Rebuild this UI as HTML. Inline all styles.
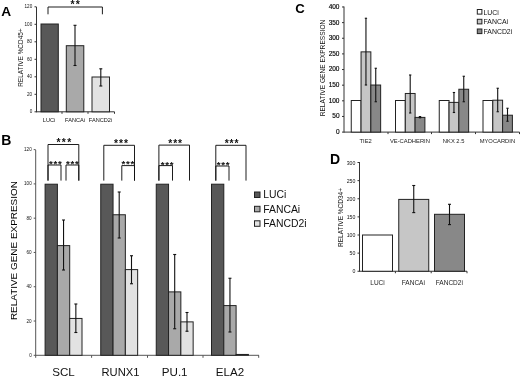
<!DOCTYPE html>
<html><head><meta charset="utf-8"><title>Figure</title>
<style>
html,body{margin:0;padding:0;background:#fff;}
body{width:520px;height:377px;overflow:hidden;font-family:"Liberation Sans",sans-serif;}
svg{display:block;filter:blur(0.3px);}
</style></head><body>
<svg width="520" height="377" viewBox="0 0 520 377">
<rect x="0" y="0" width="520" height="377" fill="#ffffff"/>
<text x="1.3" y="15.5" font-size="13.7" text-anchor="start" font-weight="bold" fill="#000" font-family="Liberation Sans, sans-serif" >A</text>
<line x1="36.5" y1="7" x2="36.5" y2="112.3" stroke="#333" stroke-width="1"/>
<line x1="36.5" y1="111.8" x2="114.5" y2="111.8" stroke="#333" stroke-width="1"/>
<line x1="34.5" y1="111.8" x2="36.5" y2="111.8" stroke="#333" stroke-width="1"/>
<text x="32.2" y="113.3" font-size="4.6" text-anchor="end" font-weight="normal" fill="#111" font-family="Liberation Sans, sans-serif" >0</text>
<line x1="34.5" y1="94.3" x2="36.5" y2="94.3" stroke="#333" stroke-width="1"/>
<text x="32.2" y="95.8" font-size="4.6" text-anchor="end" font-weight="normal" fill="#111" font-family="Liberation Sans, sans-serif" >20</text>
<line x1="34.5" y1="76.8" x2="36.5" y2="76.8" stroke="#333" stroke-width="1"/>
<text x="32.2" y="78.3" font-size="4.6" text-anchor="end" font-weight="normal" fill="#111" font-family="Liberation Sans, sans-serif" >40</text>
<line x1="34.5" y1="59.3" x2="36.5" y2="59.3" stroke="#333" stroke-width="1"/>
<text x="32.2" y="60.8" font-size="4.6" text-anchor="end" font-weight="normal" fill="#111" font-family="Liberation Sans, sans-serif" >60</text>
<line x1="34.5" y1="41.8" x2="36.5" y2="41.8" stroke="#333" stroke-width="1"/>
<text x="32.2" y="43.3" font-size="4.6" text-anchor="end" font-weight="normal" fill="#111" font-family="Liberation Sans, sans-serif" >80</text>
<line x1="34.5" y1="24.299999999999997" x2="36.5" y2="24.299999999999997" stroke="#333" stroke-width="1"/>
<text x="32.2" y="25.799999999999997" font-size="4.6" text-anchor="end" font-weight="normal" fill="#111" font-family="Liberation Sans, sans-serif" >100</text>
<line x1="34.5" y1="6.799999999999997" x2="36.5" y2="6.799999999999997" stroke="#333" stroke-width="1"/>
<text x="32.2" y="8.299999999999997" font-size="4.6" text-anchor="end" font-weight="normal" fill="#111" font-family="Liberation Sans, sans-serif" >120</text>
<line x1="62" y1="111.8" x2="62" y2="113.8" stroke="#333" stroke-width="1"/>
<line x1="88" y1="111.8" x2="88" y2="113.8" stroke="#333" stroke-width="1"/>
<line x1="114.5" y1="111.8" x2="114.5" y2="113.8" stroke="#333" stroke-width="1"/>
<text transform="translate(22.8,57.6) rotate(-90)" font-size="6.45" text-anchor="middle" fill="#111" font-family="Liberation Sans, sans-serif">RELATIVE %CD45+</text>
<rect x="41" y="24" width="17.3" height="87.8" fill="#585858" stroke="#222" stroke-width="1"/>
<rect x="66.3" y="45.7" width="17.5" height="66.1" fill="#a9a9a9" stroke="#222" stroke-width="1"/>
<rect x="92" y="77" width="17.5" height="34.8" fill="#e2e2e2" stroke="#222" stroke-width="1"/>
<line x1="75" y1="25.3" x2="75" y2="65.5" stroke="#111" stroke-width="1.1"/>
<line x1="73.5" y1="25.3" x2="76.5" y2="25.3" stroke="#111" stroke-width="1.1"/>
<line x1="73.5" y1="65.5" x2="76.5" y2="65.5" stroke="#111" stroke-width="1.1"/>
<line x1="100.8" y1="68.8" x2="100.8" y2="86" stroke="#111" stroke-width="1.1"/>
<line x1="99.3" y1="68.8" x2="102.3" y2="68.8" stroke="#111" stroke-width="1.1"/>
<line x1="99.3" y1="86" x2="102.3" y2="86" stroke="#111" stroke-width="1.1"/>
<polyline points="48,14.3 48,7 102.4,7 102.4,14.3" fill="none" stroke="#111" stroke-width="0.95"/>
<text x="75.7" y="8.4" font-size="10.5" text-anchor="middle" font-weight="bold" fill="#111" font-family="Liberation Sans, sans-serif" letter-spacing="1.0">**</text>
<text x="49" y="122" font-size="5.6" text-anchor="middle" font-weight="normal" fill="#111" font-family="Liberation Sans, sans-serif" >LUCi</text>
<text x="75" y="122" font-size="5.6" text-anchor="middle" font-weight="normal" fill="#111" font-family="Liberation Sans, sans-serif" >FANCAi</text>
<text x="100.5" y="122" font-size="5.6" text-anchor="middle" font-weight="normal" fill="#111" font-family="Liberation Sans, sans-serif" >FANCD2i</text>
<text x="1.3" y="145" font-size="14" text-anchor="start" font-weight="bold" fill="#000" font-family="Liberation Sans, sans-serif" >B</text>
<line x1="35.7" y1="150" x2="35.7" y2="355.8" stroke="#555" stroke-width="1"/>
<line x1="35.7" y1="355.3" x2="259" y2="355.3" stroke="#555" stroke-width="1"/>
<line x1="33.7" y1="355.3" x2="35.7" y2="355.3" stroke="#555" stroke-width="1"/>
<text x="31.700000000000003" y="356.8" font-size="4.6" text-anchor="end" font-weight="normal" fill="#111" font-family="Liberation Sans, sans-serif" >0</text>
<line x1="33.7" y1="321.02" x2="35.7" y2="321.02" stroke="#555" stroke-width="1"/>
<text x="31.700000000000003" y="322.52" font-size="4.6" text-anchor="end" font-weight="normal" fill="#111" font-family="Liberation Sans, sans-serif" >20</text>
<line x1="33.7" y1="286.74" x2="35.7" y2="286.74" stroke="#555" stroke-width="1"/>
<text x="31.700000000000003" y="288.24" font-size="4.6" text-anchor="end" font-weight="normal" fill="#111" font-family="Liberation Sans, sans-serif" >40</text>
<line x1="33.7" y1="252.46" x2="35.7" y2="252.46" stroke="#555" stroke-width="1"/>
<text x="31.700000000000003" y="253.96" font-size="4.6" text-anchor="end" font-weight="normal" fill="#111" font-family="Liberation Sans, sans-serif" >60</text>
<line x1="33.7" y1="218.18" x2="35.7" y2="218.18" stroke="#555" stroke-width="1"/>
<text x="31.700000000000003" y="219.68" font-size="4.6" text-anchor="end" font-weight="normal" fill="#111" font-family="Liberation Sans, sans-serif" >80</text>
<line x1="33.7" y1="183.9" x2="35.7" y2="183.9" stroke="#555" stroke-width="1"/>
<text x="31.700000000000003" y="185.4" font-size="4.6" text-anchor="end" font-weight="normal" fill="#111" font-family="Liberation Sans, sans-serif" >100</text>
<line x1="33.7" y1="149.62" x2="35.7" y2="149.62" stroke="#555" stroke-width="1"/>
<text x="31.700000000000003" y="151.12" font-size="4.6" text-anchor="end" font-weight="normal" fill="#111" font-family="Liberation Sans, sans-serif" >120</text>
<line x1="35.7" y1="355.3" x2="35.7" y2="357.8" stroke="#555" stroke-width="1"/>
<line x1="91.6" y1="355.3" x2="91.6" y2="357.8" stroke="#555" stroke-width="1"/>
<line x1="147.5" y1="355.3" x2="147.5" y2="357.8" stroke="#555" stroke-width="1"/>
<line x1="203" y1="355.3" x2="203" y2="357.8" stroke="#555" stroke-width="1"/>
<line x1="258.7" y1="355.3" x2="258.7" y2="357.8" stroke="#555" stroke-width="1"/>
<text transform="translate(17.2,250.6) rotate(-90)" font-size="9.95" text-anchor="middle" fill="#000" font-family="Liberation Sans, sans-serif">RELATIVE GENE EXPRESION</text>
<rect x="45.1" y="184.2" width="12.3" height="171.10000000000002" fill="#585858" stroke="#222" stroke-width="1"/>
<rect x="57.400000000000006" y="245.604" width="12.3" height="109.696" fill="#a9a9a9" stroke="#222" stroke-width="1"/>
<rect x="69.7" y="318.449" width="12.3" height="36.851" fill="#e2e2e2" stroke="#222" stroke-width="1"/>
<line x1="63.550000000000004" y1="220" x2="63.550000000000004" y2="270" stroke="#111" stroke-width="1.1"/>
<line x1="62.050000000000004" y1="220" x2="65.05000000000001" y2="220" stroke="#111" stroke-width="1.1"/>
<line x1="62.050000000000004" y1="270" x2="65.05000000000001" y2="270" stroke="#111" stroke-width="1.1"/>
<line x1="75.85" y1="304" x2="75.85" y2="332.5" stroke="#111" stroke-width="1.1"/>
<line x1="74.35" y1="304" x2="77.35" y2="304" stroke="#111" stroke-width="1.1"/>
<line x1="74.35" y1="332.5" x2="77.35" y2="332.5" stroke="#111" stroke-width="1.1"/>
<text x="63.550000000000004" y="376.2" font-size="11.6" text-anchor="middle" font-weight="normal" fill="#111" font-family="Liberation Sans, sans-serif" >SCL</text>
<rect x="100.75" y="184.2" width="12.3" height="171.10000000000002" fill="#585858" stroke="#222" stroke-width="1"/>
<rect x="113.05" y="214.752" width="12.3" height="140.548" fill="#a9a9a9" stroke="#222" stroke-width="1"/>
<rect x="125.35" y="269.6" width="12.3" height="85.69999999999999" fill="#e2e2e2" stroke="#222" stroke-width="1"/>
<line x1="119.2" y1="192" x2="119.2" y2="238" stroke="#111" stroke-width="1.1"/>
<line x1="117.7" y1="192" x2="120.7" y2="192" stroke="#111" stroke-width="1.1"/>
<line x1="117.7" y1="238" x2="120.7" y2="238" stroke="#111" stroke-width="1.1"/>
<line x1="131.5" y1="255.75" x2="131.5" y2="283.75" stroke="#111" stroke-width="1.1"/>
<line x1="130.0" y1="255.75" x2="133.0" y2="255.75" stroke="#111" stroke-width="1.1"/>
<line x1="130.0" y1="283.75" x2="133.0" y2="283.75" stroke="#111" stroke-width="1.1"/>
<text x="120.5" y="376.2" font-size="11.2" text-anchor="middle" font-weight="normal" fill="#111" font-family="Liberation Sans, sans-serif" >RUNX1</text>
<rect x="156.25" y="184.2" width="12.3" height="171.10000000000002" fill="#585858" stroke="#222" stroke-width="1"/>
<rect x="168.55" y="291.882" width="12.3" height="63.418000000000006" fill="#a9a9a9" stroke="#222" stroke-width="1"/>
<rect x="180.85" y="321.877" width="12.3" height="33.423" fill="#e2e2e2" stroke="#222" stroke-width="1"/>
<line x1="174.7" y1="254.5" x2="174.7" y2="328.75" stroke="#111" stroke-width="1.1"/>
<line x1="173.2" y1="254.5" x2="176.2" y2="254.5" stroke="#111" stroke-width="1.1"/>
<line x1="173.2" y1="328.75" x2="176.2" y2="328.75" stroke="#111" stroke-width="1.1"/>
<line x1="187.0" y1="312.5" x2="187.0" y2="331.25" stroke="#111" stroke-width="1.1"/>
<line x1="185.5" y1="312.5" x2="188.5" y2="312.5" stroke="#111" stroke-width="1.1"/>
<line x1="185.5" y1="331.25" x2="188.5" y2="331.25" stroke="#111" stroke-width="1.1"/>
<text x="174.7" y="376.2" font-size="11.6" text-anchor="middle" font-weight="normal" fill="#111" font-family="Liberation Sans, sans-serif" >PU.1</text>
<rect x="211.5" y="184.2" width="12.3" height="171.10000000000002" fill="#585858" stroke="#222" stroke-width="1"/>
<rect x="223.8" y="305.594" width="12.3" height="49.70600000000002" fill="#a9a9a9" stroke="#222" stroke-width="1"/>
<rect x="236.1" y="354.443" width="12.3" height="0.8570000000000277" fill="#e2e2e2" stroke="#222" stroke-width="1"/>
<line x1="229.95" y1="278.25" x2="229.95" y2="332" stroke="#111" stroke-width="1.1"/>
<line x1="228.45" y1="278.25" x2="231.45" y2="278.25" stroke="#111" stroke-width="1.1"/>
<line x1="228.45" y1="332" x2="231.45" y2="332" stroke="#111" stroke-width="1.1"/>
<text x="229.95" y="376.2" font-size="11.6" text-anchor="middle" font-weight="normal" fill="#111" font-family="Liberation Sans, sans-serif" >ELA2</text>
<polyline points="48,180.6 48,144.5 78.8,144.5 78.8,180.6" fill="none" stroke="#111" stroke-width="0.95"/>
<text x="64.5" y="146.4" font-size="10.3" text-anchor="middle" font-weight="bold" fill="#111" font-family="Liberation Sans, sans-serif" letter-spacing="1.4">***</text>
<polyline points="48,180.6 48,165 61,165 61,180.6" fill="none" stroke="#111" stroke-width="0.95"/>
<text x="55.7" y="167.2" font-size="9.7" text-anchor="middle" font-weight="bold" fill="#111" font-family="Liberation Sans, sans-serif" letter-spacing="0.7">***</text>
<polyline points="66,180.6 66,165 78.8,165 78.8,180.6" fill="none" stroke="#111" stroke-width="0.95"/>
<text x="72.7" y="167.2" font-size="9.7" text-anchor="middle" font-weight="bold" fill="#111" font-family="Liberation Sans, sans-serif" letter-spacing="0.7">***</text>
<polyline points="103.8,180.6 103.8,145.3 134.5,145.3 134.5,180.6" fill="none" stroke="#111" stroke-width="0.95"/>
<text x="121.4" y="147.2" font-size="10.3" text-anchor="middle" font-weight="bold" fill="#111" font-family="Liberation Sans, sans-serif" letter-spacing="1.0">***</text>
<polyline points="121.8,180.6 121.8,165.6 134.5,165.6 134.5,180.6" fill="none" stroke="#111" stroke-width="0.95"/>
<text x="128.2" y="166.6" font-size="9.7" text-anchor="middle" font-weight="bold" fill="#111" font-family="Liberation Sans, sans-serif" letter-spacing="0.7">***</text>
<polyline points="158.9,180.6 158.9,145.1 189.5,145.1 189.5,180.6" fill="none" stroke="#111" stroke-width="0.95"/>
<text x="175.6" y="146.8" font-size="10.3" text-anchor="middle" font-weight="bold" fill="#111" font-family="Liberation Sans, sans-serif" letter-spacing="0.9">***</text>
<polyline points="158.9,180.6 158.9,165.6 172.5,165.6 172.5,180.6" fill="none" stroke="#111" stroke-width="0.95"/>
<text x="167.5" y="167.7" font-size="9.7" text-anchor="middle" font-weight="bold" fill="#111" font-family="Liberation Sans, sans-serif" letter-spacing="0.7">***</text>
<polyline points="215.8,180.6 215.8,145.3 246,145.3 246,180.6" fill="none" stroke="#111" stroke-width="0.95"/>
<text x="232" y="147.2" font-size="10.3" text-anchor="middle" font-weight="bold" fill="#111" font-family="Liberation Sans, sans-serif" letter-spacing="0.9">***</text>
<polyline points="215.8,180.6 215.8,166 229,166 229,180.6" fill="none" stroke="#111" stroke-width="0.95"/>
<text x="223.4" y="167.8" font-size="9.7" text-anchor="middle" font-weight="bold" fill="#111" font-family="Liberation Sans, sans-serif" letter-spacing="0.7">***</text>
<rect x="254.5" y="192" width="5.5" height="5.5" fill="#585858" stroke="#222" stroke-width="1"/>
<text x="263.2" y="198.3" font-size="10.4" text-anchor="start" font-weight="normal" fill="#111" font-family="Liberation Sans, sans-serif" >LUCi</text>
<rect x="254.5" y="206.3" width="5.5" height="5.5" fill="#a9a9a9" stroke="#222" stroke-width="1"/>
<text x="263.2" y="212.60000000000002" font-size="10.4" text-anchor="start" font-weight="normal" fill="#111" font-family="Liberation Sans, sans-serif" >FANCAi</text>
<rect x="254.5" y="220.8" width="5.5" height="5.5" fill="#e2e2e2" stroke="#222" stroke-width="1"/>
<text x="263.2" y="227.10000000000002" font-size="10.4" text-anchor="start" font-weight="normal" fill="#111" font-family="Liberation Sans, sans-serif" >FANCD2i</text>
<text x="295.3" y="12.8" font-size="13.2" text-anchor="start" font-weight="bold" fill="#000" font-family="Liberation Sans, sans-serif" >C</text>
<line x1="344" y1="6.5" x2="344" y2="132.6" stroke="#333" stroke-width="1"/>
<line x1="344" y1="132.1" x2="519.5" y2="132.1" stroke="#333" stroke-width="1"/>
<line x1="342" y1="132.1" x2="344" y2="132.1" stroke="#333" stroke-width="1"/>
<text x="339.5" y="134.0" font-size="6.5" text-anchor="end" font-weight="normal" fill="#000" font-family="Liberation Sans, sans-serif" stroke="#000" stroke-width="0.15">0</text>
<line x1="342" y1="116.46" x2="344" y2="116.46" stroke="#333" stroke-width="1"/>
<text x="339.5" y="118.36" font-size="6.5" text-anchor="end" font-weight="normal" fill="#000" font-family="Liberation Sans, sans-serif" stroke="#000" stroke-width="0.15">50</text>
<line x1="342" y1="100.82" x2="344" y2="100.82" stroke="#333" stroke-width="1"/>
<text x="339.5" y="102.72" font-size="6.5" text-anchor="end" font-weight="normal" fill="#000" font-family="Liberation Sans, sans-serif" stroke="#000" stroke-width="0.15">100</text>
<line x1="342" y1="85.17999999999999" x2="344" y2="85.17999999999999" stroke="#333" stroke-width="1"/>
<text x="339.5" y="87.08" font-size="6.5" text-anchor="end" font-weight="normal" fill="#000" font-family="Liberation Sans, sans-serif" stroke="#000" stroke-width="0.15">150</text>
<line x1="342" y1="69.53999999999999" x2="344" y2="69.53999999999999" stroke="#333" stroke-width="1"/>
<text x="339.5" y="71.44" font-size="6.5" text-anchor="end" font-weight="normal" fill="#000" font-family="Liberation Sans, sans-serif" stroke="#000" stroke-width="0.15">200</text>
<line x1="342" y1="53.89999999999999" x2="344" y2="53.89999999999999" stroke="#333" stroke-width="1"/>
<text x="339.5" y="55.79999999999999" font-size="6.5" text-anchor="end" font-weight="normal" fill="#000" font-family="Liberation Sans, sans-serif" stroke="#000" stroke-width="0.15">250</text>
<line x1="342" y1="38.25999999999999" x2="344" y2="38.25999999999999" stroke="#333" stroke-width="1"/>
<text x="339.5" y="40.15999999999999" font-size="6.5" text-anchor="end" font-weight="normal" fill="#000" font-family="Liberation Sans, sans-serif" stroke="#000" stroke-width="0.15">300</text>
<line x1="342" y1="22.61999999999999" x2="344" y2="22.61999999999999" stroke="#333" stroke-width="1"/>
<text x="339.5" y="24.51999999999999" font-size="6.5" text-anchor="end" font-weight="normal" fill="#000" font-family="Liberation Sans, sans-serif" stroke="#000" stroke-width="0.15">350</text>
<line x1="342" y1="6.97999999999999" x2="344" y2="6.97999999999999" stroke="#333" stroke-width="1"/>
<text x="339.5" y="8.87999999999999" font-size="6.5" text-anchor="end" font-weight="normal" fill="#000" font-family="Liberation Sans, sans-serif" stroke="#000" stroke-width="0.15">400</text>
<line x1="388" y1="132.1" x2="388" y2="134.1" stroke="#333" stroke-width="1"/>
<line x1="431.5" y1="132.1" x2="431.5" y2="134.1" stroke="#333" stroke-width="1"/>
<line x1="475.5" y1="132.1" x2="475.5" y2="134.1" stroke="#333" stroke-width="1"/>
<line x1="519.5" y1="132.1" x2="519.5" y2="134.1" stroke="#333" stroke-width="1"/>
<text transform="translate(324.7,68) rotate(-90)" font-size="6.6" text-anchor="middle" fill="#111" font-family="Liberation Sans, sans-serif">RELATIVE GENE EXPRESSION</text>
<rect x="351.25" y="100.5" width="9.8" height="31.599999999999994" fill="#ffffff" stroke="#222" stroke-width="1"/>
<rect x="361.05" y="51.866799999999984" width="9.8" height="80.23320000000001" fill="#c6c6c6" stroke="#222" stroke-width="1"/>
<rect x="370.85" y="85.02359999999999" width="9.8" height="47.07640000000001" fill="#888888" stroke="#222" stroke-width="1"/>
<line x1="365.95" y1="18.25" x2="365.95" y2="85" stroke="#111" stroke-width="1.1"/>
<line x1="364.8" y1="18.25" x2="367.09999999999997" y2="18.25" stroke="#111" stroke-width="1.1"/>
<line x1="364.8" y1="85" x2="367.09999999999997" y2="85" stroke="#111" stroke-width="1.1"/>
<line x1="375.75" y1="68.25" x2="375.75" y2="101.75" stroke="#111" stroke-width="1.1"/>
<line x1="374.6" y1="68.25" x2="376.9" y2="68.25" stroke="#111" stroke-width="1.1"/>
<line x1="374.6" y1="101.75" x2="376.9" y2="101.75" stroke="#111" stroke-width="1.1"/>
<text x="365.65" y="143.2" font-size="5.8" text-anchor="middle" font-weight="normal" fill="#222" font-family="Liberation Sans, sans-serif" >TIE2</text>
<rect x="395.5" y="100.5" width="9.8" height="31.599999999999994" fill="#ffffff" stroke="#222" stroke-width="1"/>
<rect x="405.3" y="93.4692" width="9.8" height="38.630799999999994" fill="#c6c6c6" stroke="#222" stroke-width="1"/>
<rect x="415.1" y="117.3984" width="9.8" height="14.7016" fill="#888888" stroke="#222" stroke-width="1"/>
<line x1="410.2" y1="75" x2="410.2" y2="113" stroke="#111" stroke-width="1.1"/>
<line x1="409.05" y1="75" x2="411.34999999999997" y2="75" stroke="#111" stroke-width="1.1"/>
<line x1="409.05" y1="113" x2="411.34999999999997" y2="113" stroke="#111" stroke-width="1.1"/>
<line x1="420.0" y1="116.6" x2="420.0" y2="117.8" stroke="#111" stroke-width="1.1"/>
<line x1="418.85" y1="116.6" x2="421.15" y2="116.6" stroke="#111" stroke-width="1.1"/>
<line x1="418.85" y1="117.8" x2="421.15" y2="117.8" stroke="#111" stroke-width="1.1"/>
<ellipse cx="420.0" cy="117.2" rx="1.3" ry="0.9" fill="#111"/>
<text x="409.9" y="143.2" font-size="5.8" text-anchor="middle" font-weight="normal" fill="#222" font-family="Liberation Sans, sans-serif" >VE-CADHERIN</text>
<rect x="439.25" y="100.5" width="9.8" height="31.599999999999994" fill="#ffffff" stroke="#222" stroke-width="1"/>
<rect x="449.05" y="102.38399999999999" width="9.8" height="29.716000000000008" fill="#c6c6c6" stroke="#222" stroke-width="1"/>
<rect x="458.85" y="89.2464" width="9.8" height="42.8536" fill="#888888" stroke="#222" stroke-width="1"/>
<line x1="453.95" y1="92.5" x2="453.95" y2="112.5" stroke="#111" stroke-width="1.1"/>
<line x1="452.8" y1="92.5" x2="455.09999999999997" y2="92.5" stroke="#111" stroke-width="1.1"/>
<line x1="452.8" y1="112.5" x2="455.09999999999997" y2="112.5" stroke="#111" stroke-width="1.1"/>
<line x1="463.75" y1="76.25" x2="463.75" y2="101.75" stroke="#111" stroke-width="1.1"/>
<line x1="462.6" y1="76.25" x2="464.9" y2="76.25" stroke="#111" stroke-width="1.1"/>
<line x1="462.6" y1="101.75" x2="464.9" y2="101.75" stroke="#111" stroke-width="1.1"/>
<text x="453.65" y="143.2" font-size="5.8" text-anchor="middle" font-weight="normal" fill="#222" font-family="Liberation Sans, sans-serif" >NKX 2.5</text>
<rect x="483" y="100.5" width="9.8" height="31.599999999999994" fill="#ffffff" stroke="#222" stroke-width="1"/>
<rect x="492.8" y="100.19439999999999" width="9.8" height="31.905600000000007" fill="#c6c6c6" stroke="#222" stroke-width="1"/>
<rect x="502.6" y="115.2088" width="9.8" height="16.891199999999998" fill="#888888" stroke="#222" stroke-width="1"/>
<line x1="497.7" y1="88.25" x2="497.7" y2="111.75" stroke="#111" stroke-width="1.1"/>
<line x1="496.55" y1="88.25" x2="498.84999999999997" y2="88.25" stroke="#111" stroke-width="1.1"/>
<line x1="496.55" y1="111.75" x2="498.84999999999997" y2="111.75" stroke="#111" stroke-width="1.1"/>
<line x1="507.5" y1="108.25" x2="507.5" y2="121.25" stroke="#111" stroke-width="1.1"/>
<line x1="506.35" y1="108.25" x2="508.65" y2="108.25" stroke="#111" stroke-width="1.1"/>
<line x1="506.35" y1="121.25" x2="508.65" y2="121.25" stroke="#111" stroke-width="1.1"/>
<text x="497.4" y="143.2" font-size="5.8" text-anchor="middle" font-weight="normal" fill="#222" font-family="Liberation Sans, sans-serif" >MYOCARDIN</text>
<rect x="477.3" y="9.5" width="4.6" height="4.6" fill="#ffffff" stroke="#222" stroke-width="1"/>
<text x="483.5" y="14.5" font-size="6.9" text-anchor="start" font-weight="normal" fill="#111" font-family="Liberation Sans, sans-serif" >LUCi</text>
<rect x="477.3" y="19.3" width="4.6" height="4.6" fill="#c6c6c6" stroke="#222" stroke-width="1"/>
<text x="483.5" y="24.3" font-size="6.9" text-anchor="start" font-weight="normal" fill="#111" font-family="Liberation Sans, sans-serif" >FANCAi</text>
<rect x="477.3" y="29" width="4.6" height="4.6" fill="#888888" stroke="#222" stroke-width="1"/>
<text x="483.5" y="34" font-size="6.9" text-anchor="start" font-weight="normal" fill="#111" font-family="Liberation Sans, sans-serif" >FANCD2i</text>
<text x="330" y="164" font-size="14" text-anchor="start" font-weight="bold" fill="#000" font-family="Liberation Sans, sans-serif" >D</text>
<line x1="359.5" y1="162" x2="359.5" y2="271.75" stroke="#333" stroke-width="1"/>
<line x1="359.5" y1="271.25" x2="467" y2="271.25" stroke="#333" stroke-width="1"/>
<line x1="357.5" y1="271.25" x2="359.5" y2="271.25" stroke="#333" stroke-width="1"/>
<text x="355.3" y="273.35" font-size="5.2" text-anchor="end" font-weight="normal" fill="#111" font-family="Liberation Sans, sans-serif" >0</text>
<line x1="357.5" y1="253.125" x2="359.5" y2="253.125" stroke="#333" stroke-width="1"/>
<text x="355.3" y="255.225" font-size="5.2" text-anchor="end" font-weight="normal" fill="#111" font-family="Liberation Sans, sans-serif" >50</text>
<line x1="357.5" y1="235.0" x2="359.5" y2="235.0" stroke="#333" stroke-width="1"/>
<text x="355.3" y="237.1" font-size="5.2" text-anchor="end" font-weight="normal" fill="#111" font-family="Liberation Sans, sans-serif" >100</text>
<line x1="357.5" y1="216.875" x2="359.5" y2="216.875" stroke="#333" stroke-width="1"/>
<text x="355.3" y="218.975" font-size="5.2" text-anchor="end" font-weight="normal" fill="#111" font-family="Liberation Sans, sans-serif" >150</text>
<line x1="357.5" y1="198.75" x2="359.5" y2="198.75" stroke="#333" stroke-width="1"/>
<text x="355.3" y="200.85" font-size="5.2" text-anchor="end" font-weight="normal" fill="#111" font-family="Liberation Sans, sans-serif" >200</text>
<line x1="357.5" y1="180.625" x2="359.5" y2="180.625" stroke="#333" stroke-width="1"/>
<text x="355.3" y="182.725" font-size="5.2" text-anchor="end" font-weight="normal" fill="#111" font-family="Liberation Sans, sans-serif" >250</text>
<line x1="357.5" y1="162.5" x2="359.5" y2="162.5" stroke="#333" stroke-width="1"/>
<text x="355.3" y="164.6" font-size="5.2" text-anchor="end" font-weight="normal" fill="#111" font-family="Liberation Sans, sans-serif" >300</text>
<line x1="395.4" y1="271.25" x2="395.4" y2="273.25" stroke="#333" stroke-width="1"/>
<line x1="431.2" y1="271.25" x2="431.2" y2="273.25" stroke="#333" stroke-width="1"/>
<line x1="467" y1="271.25" x2="467" y2="273.25" stroke="#333" stroke-width="1"/>
<text transform="translate(343.3,217.5) rotate(-90)" font-size="6.5" text-anchor="middle" fill="#111" font-family="Liberation Sans, sans-serif">RELATIVE %CD34+</text>
<rect x="362.5" y="235" width="30" height="36.25" fill="#ffffff" stroke="#222" stroke-width="1"/>
<rect x="398.75" y="199.4" width="30" height="71.85" fill="#c6c6c6" stroke="#222" stroke-width="1"/>
<rect x="434.5" y="214.3" width="30" height="56.94999999999999" fill="#888888" stroke="#222" stroke-width="1"/>
<line x1="413.75" y1="185.5" x2="413.75" y2="212.6" stroke="#111" stroke-width="1.1"/>
<line x1="412.25" y1="185.5" x2="415.25" y2="185.5" stroke="#111" stroke-width="1.1"/>
<line x1="412.25" y1="212.6" x2="415.25" y2="212.6" stroke="#111" stroke-width="1.1"/>
<line x1="449.5" y1="204.3" x2="449.5" y2="224.6" stroke="#111" stroke-width="1.1"/>
<line x1="448.0" y1="204.3" x2="451.0" y2="204.3" stroke="#111" stroke-width="1.1"/>
<line x1="448.0" y1="224.6" x2="451.0" y2="224.6" stroke="#111" stroke-width="1.1"/>
<text x="377.5" y="284.5" font-size="6.5" text-anchor="middle" font-weight="normal" fill="#222" font-family="Liberation Sans, sans-serif" >LUCi</text>
<text x="413.3" y="284.5" font-size="6.5" text-anchor="middle" font-weight="normal" fill="#222" font-family="Liberation Sans, sans-serif" >FANCAi</text>
<text x="449.3" y="284.5" font-size="6.5" text-anchor="middle" font-weight="normal" fill="#222" font-family="Liberation Sans, sans-serif" >FANCD2i</text>
</svg>
</body></html>
